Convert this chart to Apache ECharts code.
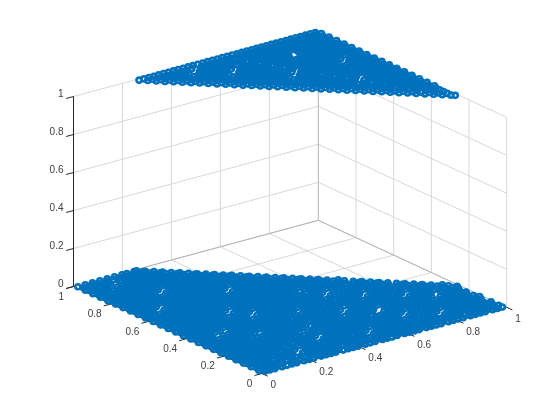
<!DOCTYPE html>
<html>
<head>
<meta charset="utf-8">
<style>html,body{margin:0;background:#fff}#main{width:560px;height:420px}</style>
<script src="https://cdn.jsdelivr.net/npm/echarts@6/dist/echarts.min.js"></script>
</head>
<body>
<div id="main"></div>
<script>
const tickValues = [0, 0.2, 0.4, 0.6, 0.8, 1]
const tickLabels = ['0', '0.2', '0.4', '0.6', '0.8', '1']

// points, x in hundredths, one list per y row. z=0 plane
const lowY = [1,3,5,7,9,11,13,15,17,19,21,23,25,27,29,31,33,35,37,39,41,43,45,47,49,51,53,55,57,59,61,63,65,67,69,71,73,75,77,79,81,83,85,87,89,91,93,95,97,99]
const lowX = [
  [2,4,6,9,11,13,15,18,20,22,25,27,29,31,34,36,38,40,43,45,47,50,52,54,56,59,61,63,65,68,70,72,74,77,79,81,83,86,88,90,92,95,97,99],
  [1,3,5,7,9,11,14,16,18,20,22,24,26,28,30,32,34,37,39,41,43,45,47,49,51,53,56,58,60,62,64,66,68,70,72,74,76,79,81,83,85,87,89,91,93,95,97,99],
  [2,4,6,8,10,12,14,16,18,20,23,25,27,29,31,33,35,37,40,42,44,46,48,50,52,54,56,58,60,62,65,67,69,71,73,75,77,79,81,83,85,88,90,92,94,96,98],
  [1,3,6,8,10,12,14,16,18,22,24,26,28,30,33,35,37,39,41,43,45,47,51,53,55,57,59,62,64,66,68,70,72,74,76,80,82,84,86,88,90,92,95,97,99],
  [2,4,6,8,10,13,15,17,19,25,27,29,31,33,35,37,39,41,44,46,48,54,56,58,60,62,64,66,68,71,73,75,77,83,85,87,89,91,93,95,97],
  [1,3,5,7,9,11,13,15,18,20,22,26,28,30,32,34,36,38,40,42,44,47,49,51,55,57,59,61,63,65,67,69,71,74,76,78,80,84,86,88,90,92,94,96,98],
  [2,4,6,8,10,12,14,16,18,21,23,25,27,29,31,35,37,39,41,43,45,47,49,52,54,56,58,60,62,64,66,70,72,74,77,79,81,83,85,87,89,91,93,95,97,99],
  [1,3,5,7,9,11,13,15,17,19,21,24,26,28,30,32,38,40,42,44,46,48,50,52,55,57,59,61,63,65,67,73,75,77,80,82,84,86,88,90,92,94,96,98],
  [2,4,6,8,10,12,14,16,18,20,22,24,27,29,31,33,35,39,41,43,45,47,49,51,53,55,58,60,62,64,66,68,70,74,76,78,80,83,85,87,89,91,93,95,97],
  [1,3,5,7,9,11,13,15,17,19,21,23,25,27,30,32,34,36,38,40,42,44,46,48,50,52,54,56,58,61,63,65,67,69,71,73,75,77,79,81,83,86,88,90,92,94,96,98],
  [2,4,6,8,10,12,14,16,18,20,22,24,26,28,30,35,37,39,41,43,45,47,49,51,53,55,57,59,61,66,68,70,72,74,76,78,80,82,84,89,91,93,95,97],
  [1,3,5,7,9,11,13,15,17,19,21,23,25,27,29,31,33,39,41,43,45,47,49,51,53,55,57,59,61,63,69,71,73,75,77,79,81,83,85,87,93,94,96,98],
  [2,4,6,8,10,12,14,16,18,20,22,24,26,28,30,32,34,36,39,41,43,45,47,49,51,53,55,57,59,61,63,65,69,72,74,76,78,80,82,84,86,88,92,95,97,99],
  [1,3,5,7,9,11,13,15,19,21,23,25,27,29,31,33,35,37,39,42,44,46,48,50,52,56,58,60,62,64,66,68,70,73,75,77,81,83,85,87,89,91,93,95,97],
  [2,4,6,8,10,12,14,16,18,24,26,28,30,32,34,36,38,40,42,45,47,49,51,53,59,61,63,65,67,69,71,73,76,78,84,86,88,90,92,94,96],
  [1,3,5,7,9,11,13,15,17,19,21,25,27,29,31,33,35,37,39,41,43,45,48,50,52,54,56,60,62,64,66,68,70,72,74,77,79,81,85,87,89,91,93],
  [2,4,6,8,10,12,14,16,18,20,22,24,26,28,30,32,34,36,38,40,42,44,46,48,51,53,55,57,59,61,63,65,67,69,71,73,75,77,80,82,84,86,88,90,91],
  [1,3,5,7,11,13,15,17,19,21,23,25,27,29,31,33,35,37,41,43,45,47,49,51,53,55,57,59,61,63,65,66,70,72,74,76,78,81,83,85,87,89],
  [2,4,6,8,16,18,20,22,24,26,28,30,32,34,36,38,40,46,48,50,52,54,56,58,60,62,64,66,68,74,76,78,80,81,84,86,87],
  [1,3,5,7,9,11,13,17,19,21,23,25,27,29,31,33,35,37,39,41,43,47,49,51,53,55,57,60,62,64,66,68,70,74,76,78,80,82,85],
  [2,4,6,8,10,12,14,16,18,20,22,24,26,28,30,32,34,36,38,40,42,44,46,48,50,52,54,56,58,60,63,65,67,69,71,73,75,77,79,81,83],
  [1,3,5,7,9,11,13,15,17,19,21,23,25,27,31,33,35,37,39,41,43,45,47,49,51,53,55,57,61,63,66,68,70,72,74,76,78,80,81],
  [2,4,6,8,10,12,14,16,18,20,22,24,26,28,34,36,38,40,42,44,46,48,50,52,54,56,58,64,66,69,71,73,75,77,79],
  [1,3,5,7,9,11,13,15,17,19,21,23,25,27,29,31,35,37,39,41,43,45,47,49,51,53,55,57,59,61,65,67,69,72,74,76,77],
  [2,4,6,8,10,12,14,16,18,20,22,26,28,30,32,34,36,38,40,42,44,46,48,50,54,56,58,60,62,64,66,68,70,72,75],
  [1,3,5,7,9,11,13,15,17,19,21,23,29,31,33,35,37,39,41,43,45,47,49,51,53,59,61,63,65,67,69,71,73],
  [2,4,6,8,10,12,14,16,18,20,22,24,26,30,32,34,36,38,40,42,44,46,48,50,52,54,58,60,62,64,66,68,70,72],
  [1,3,5,7,9,11,13,15,17,19,21,23,25,27,29,31,33,35,37,39,41,43,45,47,49,51,53,55,57,59,61,63,65,67,69],
  [2,4,6,8,10,12,14,16,18,20,22,24,26,28,30,32,34,36,38,40,42,44,46,48,50,52,54,56,58,60,62,64,66,67],
  [1,3,5,7,9,11,13,15,17,19,21,23,25,27,29,31,33,35,37,39,41,43,45,47,49,51,53,55,57,59,61,63,65],
  [2,4,6,8,10,12,14,16,18,20,22,24,26,28,30,32,34,36,38,40,42,44,46,48,50,52,54,56,58,60,62,63],
  [1,3,5,7,9,11,13,15,17,19,21,23,25,27,29,31,33,35,37,39,41,43,45,47,49,51,53,55,57,59,61],
  [2,4,6,10,12,14,16,18,20,22,24,26,28,30,32,34,38,40,42,44,46,48,50,52,54,56,58,59],
  [1,3,5,7,13,15,17,19,21,23,25,27,29,31,33,35,41,43,45,47,49,51,53,55,57],
  [2,4,6,8,10,14,16,18,20,22,24,26,28,30,32,34,36,38,42,44,46,48,50,52,54,55],
  [1,3,5,7,9,11,13,15,17,19,21,23,25,27,29,31,33,35,37,39,41,43,45,47,49,51,53],
  [2,4,6,8,10,12,14,16,18,20,22,24,26,28,30,32,34,36,38,40,42,44,46,48,50,51],
  [1,3,5,7,9,11,13,15,17,19,21,23,25,27,29,31,33,35,37,39,41,43,45,47,49],
  [2,4,6,8,10,12,14,16,20,22,24,26,28,30,32,34,36,38,40,42,44,46,47],
  [1,3,5,7,9,11,13,15,17,23,25,27,29,31,33,35,37,39,41,43,45],
  [2,4,6,8,10,12,14,16,18,20,24,26,28,30,32,34,36,38,40,42,43],
  [1,3,5,7,9,11,13,15,17,19,21,23,25,27,29,31,33,35,37,39,41],
  [2,4,6,8,10,12,14,16,18,20,22,24,26,28,30,32,34,36,38,39],
  [1,3,5,7,9,11,13,15,17,19,21,23,25,27,29,31,33,35,37],
  [2,4,6,8,10,12,14,16,18,20,22,24,26,28,30,32,34,35],
  [1,3,5,7,11,13,15,17,19,21,23,25,27,29,31,33],
  [2,4,6,8,10,16,18,20,22,24,26,28,30,31],
  [1,3,5,7,9,11,15,17,19,21,23,25,27,29],
  [2,4,6,8,10,12,14,16,18,20,22,24,26,27],
  [1,4,7,10,13,16,19,21,24,25]
]

// same again for the z=1 plane
const highY = [26,27,29,31,33,35,37,39,41,43,45,47,49,51,53,55,57,59,61,63,65,67,69,71,73,75,77,79,81,83,85,87,89,91,93,95,97,99]
const highX = [
  [99],
  [98],
  [96,98],
  [94,96,98],
  [92,94,96,98],
  [90,92,94,96,98],
  [88,90,92,95,97,99],
  [86,88,90,92,94,96,98],
  [84,86,88,90,93,95,97,99],
  [82,84,86,88,90,92,94,96,98],
  [80,82,84,86,88,91,93,95,97,99],
  [78,80,82,84,86,88,90,92,94,96,98],
  [76,78,80,82,84,86,89,91,93,95,97,99],
  [74,76,78,80,82,84,86,88,90,92,94,96,98],
  [72,74,76,78,80,82,84,87,89,91,93,95,97,99],
  [70,72,74,76,78,80,84,86,88,90,92,94,96,98],
  [68,70,72,74,76,78,80,82,88,90,92,94,96,98,99],
  [66,68,70,72,74,76,78,80,82,84,88,90,92,94,96,98],
  [64,66,68,70,72,74,76,78,80,83,85,87,89,91,93,95,97,99],
  [62,64,66,68,70,72,74,76,78,80,82,84,86,88,90,92,94,96,98],
  [60,62,64,66,68,70,72,74,76,78,81,83,85,87,89,91,93,95,97,99],
  [58,60,62,64,66,68,70,72,74,76,78,80,82,84,86,88,90,92,94,96,98],
  [56,58,60,62,64,66,68,70,72,74,76,79,81,83,85,87,89,91,93,95,97,99],
  [54,56,58,60,62,64,66,70,72,74,76,78,80,82,84,86,90,92,94,96,98],
  [52,54,56,58,60,62,64,66,72,74,76,78,80,82,84,86,92,94,95,97,99],
  [50,52,54,56,58,60,62,64,66,68,70,74,76,78,80,82,84,86,88,90,94,96,98],
  [48,50,52,54,56,58,60,62,64,66,68,70,72,75,77,79,81,83,85,87,89,91,93,95,97,99],
  [46,48,50,52,54,56,58,60,62,64,66,68,70,72,74,76,78,80,82,84,86,88,90,92,94,96,98],
  [44,46,48,50,52,54,56,58,60,62,64,66,68,70,73,75,77,79,81,83,85,87,89,91,93,95,97,99],
  [42,44,46,48,50,52,54,56,58,60,62,64,66,68,70,72,74,76,78,80,82,84,86,88,90,92,94,96,98],
  [40,42,44,46,48,50,52,56,58,60,62,64,66,68,71,73,75,77,81,83,85,87,89,91,93,95,97,99],
  [38,40,42,44,46,48,50,52,58,60,62,64,66,68,70,72,74,76,78,84,86,88,90,92,94,96,98],
  [36,38,40,42,44,46,48,50,52,54,56,60,62,64,66,69,71,73,75,77,79,83,85,87,89,91,93,95,97,99],
  [34,36,38,40,42,44,46,48,50,52,54,56,58,60,62,64,66,68,70,72,74,76,78,80,82,84,86,88,90,92,94,96,98],
  [32,34,36,38,40,42,46,48,50,52,54,56,58,60,62,64,67,69,71,73,75,77,79,81,83,85,87,89,91,93,95,97,99],
  [30,32,34,36,38,40,42,48,50,52,54,56,58,60,62,64,66,68,70,72,74,76,78,80,82,84,86,88,90,92,94,96,98],
  [28,30,32,34,36,38,40,42,44,46,50,52,54,56,58,60,62,65,67,69,71,73,75,77,79,81,83,85,87,89,91,93,95,97,99],
  [26,28,30,32,34,36,38,40,42,44,46,48,50,52,54,56,58,60,62,64,66,68,70,72,74,76,78,80,82,84,86,88,90,92,94,96,98]
]

const blue = '#0072BD'

// 把三维坐标投影到画布像素（正交视角）
const project = (x, y, z) => [
  261.9 + 244.8 * x - 188.4 * y,
  373.5 - 66.2 * x - 87 * y - 190 * z
]

const toPoints = (ys, xs, z) => {
  const pts = []
  ys.forEach((y, i) => xs[i].forEach(x => pts.push(project(x / 100, y / 100, z))))
  return pts
}

// segments joined by null so that one line series can hold them all
const path = segs => {
  const out = []
  segs.forEach(([a, b]) => out.push(project(...a), project(...b), null))
  return out
}

const gridSegs = []
const backSegs = []
tickValues.forEach(t => {
  // floor
  gridSegs.push([[t, 0, 0], [t, 1, 0]], [[0, t, 0], [1, t, 0]])
  // back walls
  if (t < 1) gridSegs.push([[t, 1, 0], [t, 1, 1]], [[1, t, 0], [1, t, 1]])
  if (t > 0) gridSegs.push([[0, 1, t], [1, 1, t]], [[1, 1, t], [1, 0, t]])
})
backSegs.push([[0, 1, 0], [1, 1, 0]], [[1, 1, 0], [1, 0, 0]], [[1, 1, 0], [1, 1, 1]])

const axisSegs = [[[0, 0, 0], [1, 0, 0]], [[0, 0, 0], [0, 1, 0]], [[0, 1, 0], [0, 1, 1]]]
tickValues.forEach(t => {
  axisSegs.push([[t, 0, 0], [t, -0.03, 0]], [[0, t, 0], [-0.03, t, 0]], [[0, 1, t], [-0.03, 1, t]])
})

const lineSeries = (data, color, z) => ({
  type: 'line',
  data: path(data),
  symbol: 'none',
  silent: true,
  z,
  connectNulls: false,
  lineStyle: { color, width: 1 }
})

const markSeries = data => ({
  type: 'scatter',
  data,
  symbol: 'circle',
  symbolSize: 5,
  silent: true,
  z: 5,
  large: false,
  progressive: 0,
  itemStyle: { color: 'rgba(0,0,0,0)', borderColor: blue, borderWidth: 2.6, opacity: 1 }
})

// 刻度文字
const labelData = []
tickValues.forEach((t, i) => {
  const a = project(t, 0, 0)
  const b = project(0, t, 0)
  const c = project(0, 1, t)
  labelData.push([a[0] + 8.5, a[1] + 11.7, tickLabels[i], 'left'])
  labelData.push([b[0] - 9.5, b[1] + 10.5, tickLabels[i], 'right'])
  labelData.push([c[0] - 10, c[1] - 2.5, tickLabels[i], 'right'])
})

const myChart = echarts.init(document.getElementById('main'))
myChart.setOption({
  animation: false,
  backgroundColor: '#fff',
  tooltip: { show: false },
  grid: { left: 0, right: 0, top: 0, bottom: 0 },
  xAxis: { type: 'value', min: 0, max: 560, show: false },
  yAxis: { type: 'value', min: 0, max: 420, inverse: true, show: false },
  series: [
    lineSeries(gridSegs, '#d8d8d8', 1),
    lineSeries(backSegs, '#b4b4b4', 2),
    lineSeries(axisSegs, '#262626', 3),
    markSeries(toPoints(lowY, lowX, 0)),
    markSeries(toPoints(highY, highX, 1)),
    {
      type: 'custom',
      data: labelData,
      silent: true,
      z: 6,
      renderItem: (params, api) => {
        const p = api.coord([api.value(0), api.value(1)])
        return {
          type: 'text',
          style: {
            x: p[0],
            y: p[1],
            text: labelData[params.dataIndex][2],
            align: labelData[params.dataIndex][3],
            verticalAlign: 'middle',
            fill: '#404040',
            font: '10px "Liberation Sans", Arial, sans-serif'
          }
        }
      }
    }
  ]
})
</script>
</body>
</html>
